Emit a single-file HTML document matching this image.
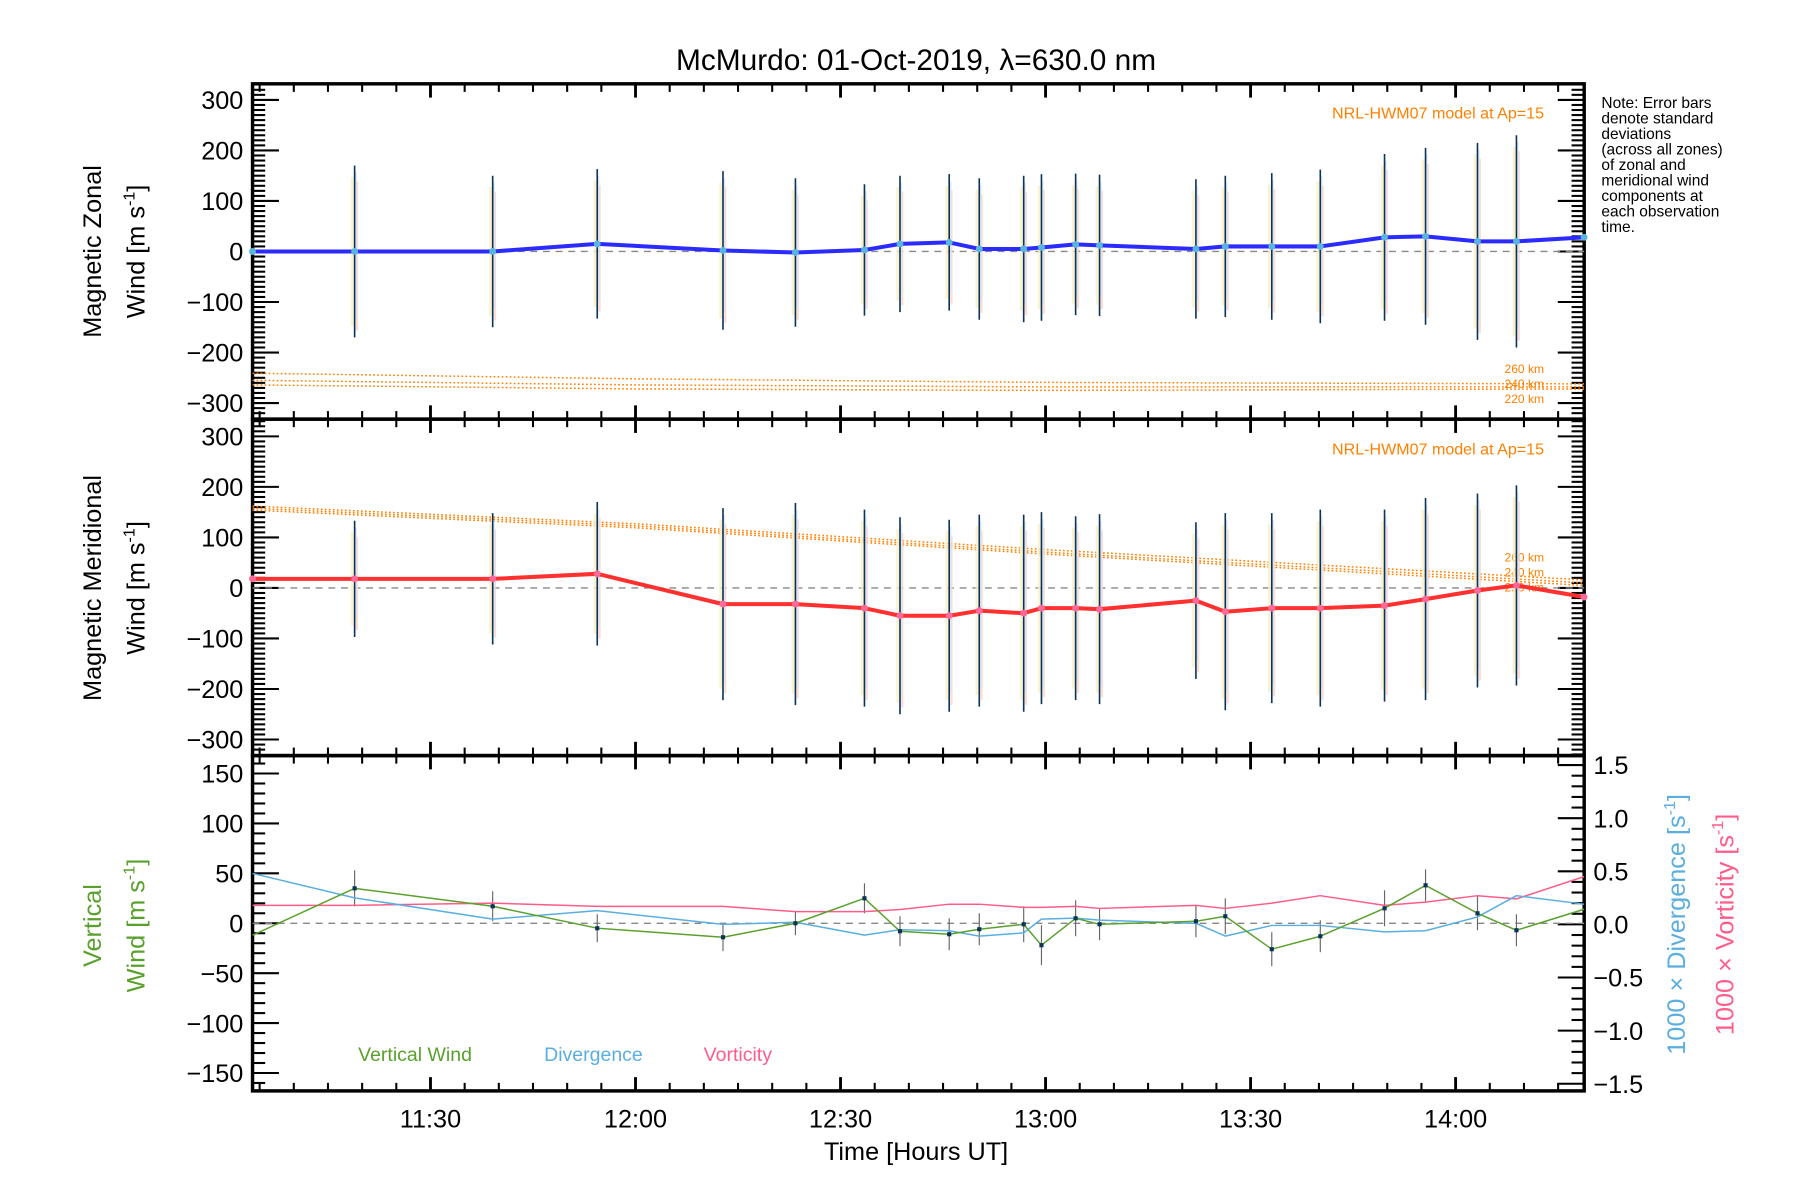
<!DOCTYPE html>
<html><head><meta charset="utf-8"><style>
html,body{margin:0;padding:0;background:#fff;}
svg{display:block;font-family:"Liberation Sans",sans-serif;}
</style></head><body>
<svg id="chart" width="1800" height="1200" viewBox="0 0 1568 1045" preserveAspectRatio="none" xmlns="http://www.w3.org/2000/svg">
<text x="798" y="61" font-size="26" text-anchor="middle">McMurdo: 01-Oct-2019, λ=630.0 nm</text>
<g font-size="22">
<text transform="translate(88,219) rotate(-90)" text-anchor="middle">Magnetic Zonal</text>
<text transform="translate(126,219) rotate(-90)" text-anchor="middle">Wind [m s<tspan font-size="14" dy="-9">-1</tspan><tspan dy="9">]</tspan></text>
</g>
<g font-size="22">
<text transform="translate(88,512) rotate(-90)" text-anchor="middle">Magnetic Meridional</text>
<text transform="translate(126,512) rotate(-90)" text-anchor="middle">Wind [m s<tspan font-size="14" dy="-9">-1</tspan><tspan dy="9">]</tspan></text>
</g>
<g font-size="22" fill="#5aa02c">
<text transform="translate(88,806) rotate(-90)" text-anchor="middle">Vertical</text>
<text transform="translate(126,806) rotate(-90)" text-anchor="middle">Wind [m s<tspan font-size="14" dy="-9">-1</tspan><tspan dy="9">]</tspan></text>
</g>
<text transform="translate(1468,805) rotate(-90)" text-anchor="middle" font-size="22" fill="#5aaee0">1000 × Divergence [s<tspan font-size="14" dy="-9">-1</tspan><tspan dy="9">]</tspan></text>
<text transform="translate(1510,805) rotate(-90)" text-anchor="middle" font-size="22" fill="#ff5c8a">1000 × Vorticity [s<tspan font-size="14" dy="-9">-1</tspan><tspan dy="9">]</tspan></text>
<g font-size="13.5">
<text x="1395" y="94">Note: Error bars</text>
<text x="1395" y="107.5">denote standard</text>
<text x="1395" y="121">deviations</text>
<text x="1395" y="134.5">(across all zones)</text>
<text x="1395" y="148">of zonal and</text>
<text x="1395" y="161.5">meridional wind</text>
<text x="1395" y="175">components at</text>
<text x="1395" y="188.5">each observation</text>
<text x="1395" y="202">time.</text>
</g>
<text x="798" y="1010" font-size="22" text-anchor="middle">Time [Hours UT]</text>
<g font-size="17">
<text x="312" y="924" fill="#5aa02c">Vertical Wind</text>
<text x="474" y="924" fill="#5aaee0">Divergence</text>
<text x="613" y="924" fill="#ff5c8a">Vorticity</text>
</g>
<g id="plot"></g>
</svg>
<script>
// ---- data ----
const times = [3.96,18.9,39.1,54.4,72.8,83.4,93.5,98.7,105.9,110.3,116.8,119.4,124.4,127.9,142.0,146.3,153.1,160.2,169.6,175.6,183.2,188.9,198.8];
const zonalWind = [0,0,0,15,2,-2,3,15,18,5,5,8,14,12,5,10,10,10,28,30,20,20,28];
const zonalErr = [0,170,150,148,157,147,130,135,135,140,145,145,140,140,138,140,145,152,165,175,195,210,0];
const meridWind = [18,18,18,28,-32,-32,-40,-55,-55,-45,-50,-40,-40,-42,-25,-47,-40,-40,-35,-22,-5,5,-18];
const meridErr = [0,115,130,142,190,200,195,195,190,190,195,190,182,188,155,195,188,195,190,200,192,198,0];
const modelTimes = [3.96,60,120,198.8];
const zonal260 = [-241,-252,-259,-262];
const zonal240 = [-255,-264,-268,-268];
const zonal220 = [-264,-272,-275,-272];
const merid260 = [162,127,76,16];
const merid240 = [158,123,71,10];
const merid220 = [154,119,67,5];
const vertWind = [-12,35,17,-5,-14,0,25,-8,-11,-6,-1,-22,5,-1,2,7,-26,-13,15,38,10,-7,14];
const vertErr = [0,18,15,14,14,12,15,15,16,16,18,20,18,16,16,18,17,16,18,16,17,16,0];
const divergence = [0.48,0.25,0.05,0.13,0.0,0.02,-0.1,-0.05,-0.06,-0.11,-0.08,0.05,0.06,0.04,0.01,-0.11,-0.01,-0.01,-0.07,-0.06,0.07,0.27,0.19];
const vorticity = [0.18,0.18,0.2,0.17,0.17,0.12,0.12,0.14,0.19,0.19,0.16,0.16,0.17,0.15,0.18,0.15,0.2,0.27,0.18,0.21,0.27,0.24,0.45];
const timeTicks = [30,60,90,120,150,180];
const timeLabels = ["11:30","12:00","12:30","13:00","13:30","14:00"];
const windTicks = [-300,-200,-100,0,100,200,300];
const vertTicks = [-150,-100,-50,0,50,100,150];
const ratioTicks = [-1.5,-1.0,-0.5,0.0,0.5,1.0,1.5];

// ---- axes ----
const X0=220, X1=1380;
const P = [{top:73,bot:365},{top:365,bot:658},{top:658,bot:950}];
const xs = t => 375 + (t-30)*178.6/30;
const y1 = v => 219 - v*0.44;
const y2 = v => 512 - v*0.44;
const y3 = v => 804 - v*0.8693;
const y3r = v => 805 - v*92.5;
const NS="http://www.w3.org/2000/svg";
const plot=document.getElementById('plot');
function el(tag,attrs,parent){const e=document.createElementNS(NS,tag);for(const k in attrs)e.setAttribute(k,attrs[k]);(parent||plot).appendChild(e);return e;}
function line(x1,y1_,x2,y2_,st,w,parent,extra){const e=el('line',{x1:x1,y1:y1_,x2:x2,y2:y2_,stroke:st,'stroke-width':w},parent);if(extra)for(const k in extra)e.setAttribute(k,extra[k]);return e;}
function poly(ts,vs,yf,st,w,dash,parent){const pts=ts.map((t,i)=>xs(t).toFixed(1)+','+yf(vs[i]).toFixed(1)).join(' ');const e=el('polyline',{points:pts,fill:'none',stroke:st,'stroke-width':w,'stroke-linejoin':'round'},parent);if(dash)e.setAttribute('stroke-dasharray',dash);return e;}

P.forEach((p,pi)=>{
  const g=el('g',{});
  
  
  for(let t=5;t<=195;t+=5){
    const x=xs(t); if(x<X0||x>X1) continue;
    const major = t%30===0; const L = major?12:7;
    line(x,p.top,x,p.top+L,'#000',major?2.5:1.8,g);
    line(x,p.bot,x,p.bot-L,'#000',major?2.5:1.8,g);
  }
  if(pi<2){
    const yf = pi===0?y1:y2;
    for(let v=-330;v<=330;v+=10){
      const y=yf(v); if(y<p.top+1||y>p.bot-1) continue;
      const major=v%100===0; const L=major?23:11;
      line(X0,y,X0+L,y,'#000',1.8,g);
      line(X1,y,X1-L,y,'#000',1.8,g);
    }
    windTicks.forEach(v=>{const t=el('text',{x:X0-8,y:yf(v)+8,'font-size':22,'text-anchor':'end'},g);t.textContent=(v<0?'−':'')+Math.abs(v);
      
      });
  } else {
    for(let v=-170;v<=170;v+=10){
      const y=y3(v); if(y<p.top+1||y>p.bot-1) continue;
      const major=v%50===0; const L=major?23:11;
      line(X0,y,X0+L,y,'#000',1.8,g);
    }
    vertTicks.forEach(v=>{const t=el('text',{x:X0-8,y:y3(v)+8,'font-size':22,'text-anchor':'end'},g);t.textContent=(v<0?'−':'')+Math.abs(v);
      
      });
    for(let i=-16;i<=16;i++){
      const v=i/10; const y=y3r(v); if(y<p.top-1||y>p.bot+1) continue;
      const major=i%5===0; const L=major?23:11;
      line(X1,y,X1-L,y,'#000',1.8,g);
    }
    ratioTicks.forEach(v=>{const t=el('text',{x:X1+8,y:y3r(v)+8,'font-size':22},g);t.textContent=(v<0?'−':'')+Math.abs(v).toFixed(1);
      
      });
  }
  const r=el('rect',{x:X0,y:p.top,width:X1-X0,height:p.bot-p.top,fill:'none',stroke:'#000','stroke-width':3},g);
  
  
});
timeTicks.forEach((t,i)=>{const e=el('text',{x:xs(t),y:982,'font-size':22,'text-anchor':'middle'});e.textContent=timeLabels[i];
  
  });

[[y1(0)],[y2(0)],[y3(0)]].forEach(a=>{const z=line(X0,a[0],X1,a[0],'#888',1.2,null,{'stroke-dasharray':'6,5'});
  
  });

function modelPanel(yf,arrs,labY,name){
  const g=el('g',{});
  
  
  arrs.forEach(a=>poly(modelTimes,a,yf,'#ff8000',1.3,'1.5,2',g));
  ['260 km','240 km','220 km'].forEach((s,i)=>{const t=el('text',{x:1345,y:labY+i*13,'font-size':10.5,fill:'#ff8000','text-anchor':'end'},g);t.textContent=s;});
}
modelPanel(y1,[zonal260,zonal240,zonal220],325,'zonal-model-lines');
modelPanel(y2,[merid260,merid240,merid220],489,'meridional-model-lines');
[[103],[396]].forEach(a=>{const t=el('text',{x:1345,y:a[0],'font-size':14,fill:'#ff8000','text-anchor':'end'});t.textContent='NRL-HWM07 model at Ap=15';
  
  });

function errBars(vals,errs,yf,name){
  const g=el('g',{});
  
  
  vals.forEach((v,i)=>{
    if(!errs[i]) return;
    const x=xs(times[i]), ya=yf(v+errs[i]), yb=yf(v-errs[i]);
    line(x-2,ya+10,x-2,yb-10,'#fbf0c8',2.5,g,{opacity:0.8});
    line(x+2,ya+14,x+2,yb-6,'#fad6cc',2,g,{opacity:0.8});
    line(x+1,ya+6,x+1,yb-16,'#d8e4f6',1.8,g,{opacity:0.8});
    const b=line(x,ya,x,yb,'#0a3358',1.4,g);
    
    
  });
}
errBars(zonalWind,zonalErr,y1,'zonal-error-bars');
errBars(meridWind,meridErr,y2,'meridional-error-bars');
const zl=poly(times,zonalWind,y1,'#2b2bff',3.5);


const ml=poly(times,meridWind,y2,'#ff3030',3.5);


times.forEach((t,i)=>{
  const c1=el('circle',{cx:xs(t),cy:y1(zonalWind[i]),r:3,fill:'#5ab4e0'});
  
  
  const c2=el('circle',{cx:xs(t),cy:y2(meridWind[i]),r:3,fill:'#ff6a9a'});
  
  
});

const g3=el('g',{});


vertWind.forEach((v,i)=>{ if(!vertErr[i]) return; const x=xs(times[i]);
  const b=line(x,y3(v+vertErr[i]),x,y3(v-vertErr[i]),'#666',1,g3);
  
  });
const vo=poly(times,vorticity,y3r,'#ff5c8a',1.3);


const dv=poly(times,divergence,y3r,'#5aaee0',1.3);


const vw=poly(times,vertWind,y3,'#5aa02c',1.3);


times.forEach((t,i)=>{ if(i===0||i===times.length-1) return;
  const r=el('rect',{x:xs(t)-1.8,y:y3(vertWind[i])-1.8,width:3.6,height:3.6,fill:'#0a3358'});
  
  
});
</script>
</body></html>
